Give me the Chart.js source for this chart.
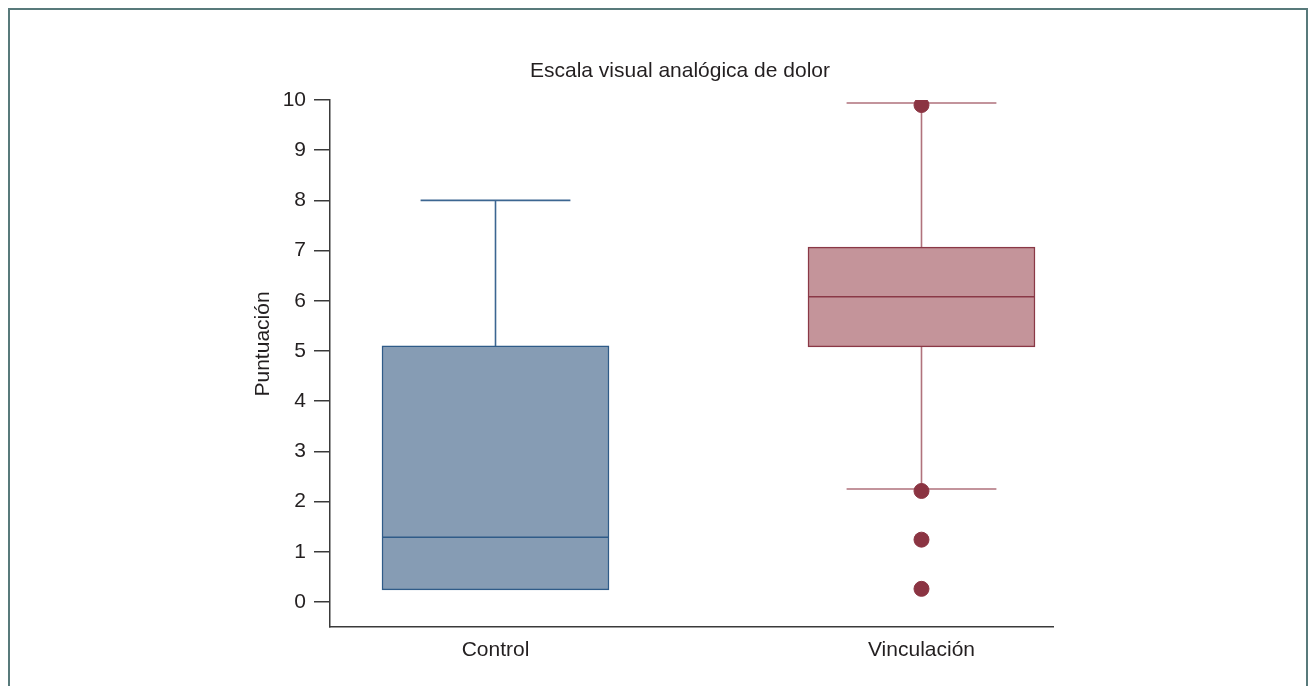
<!DOCTYPE html>
<html>
<head>
<meta charset="utf-8">
<script src="https://cdn.jsdelivr.net/npm/chart.js@4.4.1/dist/chart.umd.min.js"></script>
<style>
  html, body { margin: 0; padding: 0; background: #fff; overflow: hidden; }
  #wrap { position: relative; width: 1310px; height: 686px; }
  #frame { position: absolute; left: 8px; top: 8px; width: 1300px; height: 720px;
           border: 2px solid #587a7b; box-sizing: border-box; pointer-events: none; }
  canvas { position: absolute; left: 0; top: 0; }
</style>
</head>
<body>
<div id="wrap">
  <canvas id="c" width="1310" height="686"></canvas>
  <div id="frame"></div>
</div>
<script>
// Five-number summaries per group (pain score, 0-10 VAS)
const groups      = ['Control', 'Vinculación'];
const groupPos    = [1, 2];
const whiskerLow  = [0.24, 2.25];
const q1          = [0.24, 5.08];
const median      = [1.29, 6.08];
const q3          = [5.10, 7.07];
const whiskerHigh = [8.00, 9.94];
// Points beyond the whiskers (Vinculación only)
const outlierGroup  = [2, 2, 2, 2];
const outlierValues = [9.90, 2.21, 1.24, 0.26];
const yTicks = [0, 1, 2, 3, 4, 5, 6, 7, 8, 9, 10];
const chartTitle = 'Escala visual analógica de dolor';
const yTitle = 'Puntuación';

const fills    = ['#869cb4', '#c4949a'];
const borders  = ['#2f5b88', '#8a3846'];
const whiskers = ['#3c6691', '#b0727c'];
const dotColor = '#8b3442';
const textColor = '#231f20';
const FONT = "'Liberation Sans', Arial, Helvetica, sans-serif";
const FS = 21;

// Draws whisker stems, caps and median lines using the chart's scales
const boxWhiskers = {
  id: 'boxWhiskers',
  beforeDatasetsDraw(chart) {
    const { ctx, scales: { x, y } } = chart;
    const meta = chart.getDatasetMeta(1);
    ctx.save();
    ctx.lineWidth = 1.6;
    groupPos.forEach((g, i) => {
      const cx = x.getPixelForValue(g);
      const bw = meta.data[i].width;
      const cap = bw * 0.33;
      ctx.strokeStyle = whiskers[i];
      ctx.beginPath();
      if (whiskerHigh[i] > q3[i]) {
        const yh = y.getPixelForValue(whiskerHigh[i]);
        ctx.moveTo(cx, y.getPixelForValue(q3[i]));
        ctx.lineTo(cx, yh);
        ctx.moveTo(cx - cap, yh);
        ctx.lineTo(cx + cap, yh);
      }
      if (whiskerLow[i] < q1[i]) {
        const yl = y.getPixelForValue(whiskerLow[i]);
        ctx.moveTo(cx, y.getPixelForValue(q1[i]));
        ctx.lineTo(cx, yl);
        ctx.moveTo(cx - cap, yl);
        ctx.lineTo(cx + cap, yl);
      }
      ctx.stroke();
    });
    ctx.restore();
  },
  afterDatasetDraw(chart, args) {
    if (args.index !== 1) return;
    const { ctx, scales: { x, y } } = chart;
    const meta = chart.getDatasetMeta(1);
    ctx.save();
    ctx.lineWidth = 1.5;
    groupPos.forEach((g, i) => {
      const cx = x.getPixelForValue(g);
      const half = meta.data[i].width / 2;
      const ym = y.getPixelForValue(median[i]);
      ctx.strokeStyle = borders[i];
      ctx.beginPath();
      ctx.moveTo(cx - half, ym);
      ctx.lineTo(cx + half, ym);
      ctx.stroke();
    });
    ctx.restore();
  }
};

// Chart heading and vertical axis title
const titles = {
  id: 'titles',
  afterDraw(chart) {
    const { ctx, chartArea, scales: { y } } = chart;
    ctx.save();
    ctx.fillStyle = textColor;
    ctx.font = FS + 'px ' + FONT;
    ctx.textAlign = 'center';
    ctx.textBaseline = 'middle';
    ctx.fillText(chartTitle, chartArea.left + 350, chartArea.top - 29);
    const cy = (y.getPixelForValue(yTicks[0]) + y.getPixelForValue(yTicks[yTicks.length - 1])) / 2 - 7;
    ctx.translate(y.left + 11, cy);
    ctx.rotate(-Math.PI / 2);
    ctx.fillText(yTitle, 0, 0);
    ctx.restore();
  }
};

new Chart(document.getElementById('c'), {
  data: {
    datasets: [
      {
        type: 'scatter',
        order: 1,
        data: outlierValues.map((v, i) => ({ x: outlierGroup[i], y: v })),
        backgroundColor: dotColor,
        borderColor: dotColor,
        pointRadius: 7.5,
        pointHoverRadius: 7.5
      },
      {
        type: 'bar',
        order: 2,
        data: groupPos.map((g, i) => ({ x: g, y: [q1[i], q3[i]] })),
        backgroundColor: fills,
        borderColor: borders,
        borderWidth: 1.5,
        borderSkipped: false,
        barThickness: 227
      }
    ]
  },
  options: {
    responsive: false,
    animation: false,
    devicePixelRatio: 1,
    layout: { padding: { left: 252, right: 257, top: 100, bottom: 0 } },
    plugins: {
      legend: { display: false },
      tooltip: { enabled: false },
      title: { display: false }
    },
    scales: {
      x: {
        type: 'linear',
        offset: false,
        min: 0.6115,
        max: 2.3087,
        afterFit(s) { s.height = 59; },
        afterBuildTicks(s) { s.ticks = groupPos.map(v => ({ value: v })); },
        grid: { display: false, drawTicks: false },
        border: { display: true, color: '#3a3a3a', width: 1.5 },
        ticks: {
          padding: 11,
          color: textColor,
          font: { family: FONT, size: FS },
          callback: (v) => groups[groupPos.indexOf(v)] ?? ''
        }
      },
      y: {
        type: 'linear',
        min: -0.5,
        max: 10,
        afterFit(s) { s.width = 78; },
        afterBuildTicks(s) { s.ticks = yTicks.map(v => ({ value: v })); },
        grid: { drawOnChartArea: false, drawTicks: true, tickLength: 16, color: '#3a3a3a', lineWidth: 1.5 },
        border: { display: true, color: '#3a3a3a', width: 1.5 },
        ticks: {
          padding: 8,
          color: textColor,
          font: { family: FONT, size: FS }
        }
      }
    }
  },
  plugins: [boxWhiskers, titles]
});
</script>
</body>
</html>
